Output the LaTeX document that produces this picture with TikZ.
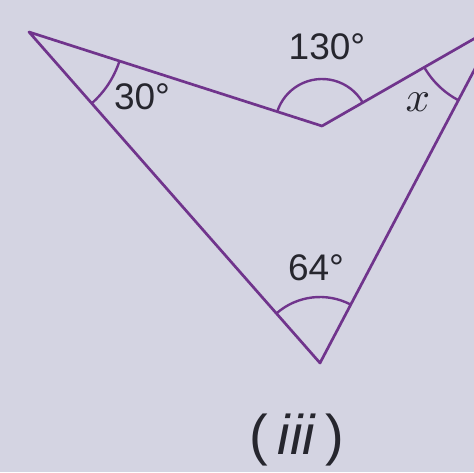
\documentclass[tikz,border=0pt]{standalone}
\usepackage{graphicx}
\usepackage{fontspec}
\setmainfont{Liberation Sans}
\usetikzlibrary{angles}
\definecolor{bgc}{RGB}{212,212,226}
\definecolor{linec}{RGB}{112,52,140}
\definecolor{txtc}{RGB}{38,38,46}
\tikzset{
  edge/.style={draw=linec, line width=2.7pt, line join=round},
  mark arc/.style={draw=linec, line width=2.4pt},
  lbl/.style={text=txtc, font=\fontsize{37}{40}\selectfont, inner sep=0pt}
}
\begin{document}
\begin{tikzpicture}[x=1pt,y=1pt]
\useasboundingbox (0,0) rectangle (474,472);
\fill[bgc] (0,0) rectangle (474,472);
\clip (0,0) rectangle (474,472);
\coordinate (A) at (29,440);
\coordinate (B) at (322,346);
\coordinate (C) at (498,447);
\coordinate (D) at (320,109);
\draw[edge] (A) -- (B) -- (C) -- (D) -- cycle;
\pic[mark arc, angle radius=95pt] {angle = D--A--B};
\pic[mark arc, angle radius=47pt] {angle = C--B--A};
\pic[mark arc, angle radius=85pt] {angle = B--C--D};
\pic[mark arc, angle radius=66pt] {angle = C--D--A};
\node[lbl] (l30) at (142,375) {30°};
\node[lbl] (l130) at (327,425) {130°};
\node[lbl] (l64) at (316,204) {64°};
\node[lbl, font=\normalsize] (lx) at (418,370) {\scalebox{4.3}{$x$}};
\node[lbl, font=\fontsize{56}{60}\selectfont] (liii) at (297,32) {(\,\textit{iii}\,)};
\end{tikzpicture}
\end{document}
